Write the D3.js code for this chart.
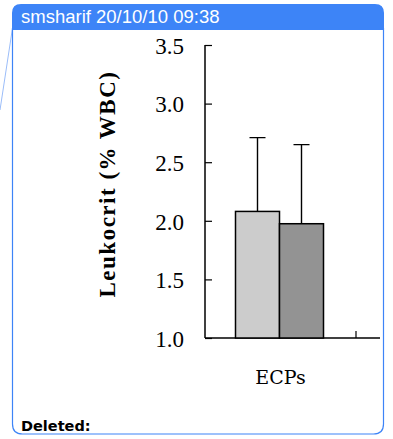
<!DOCTYPE html>
<html>
  <head>
    <meta charset="utf-8">
    <title>Leukocrit</title>
    <script src="https://d3js.org/d3.v7.min.js"></script>
    <style>
      body { margin: 0; background: #fff; }
      svg { display: block; }
    </style>
  </head>
  <body>
    <svg id="chart" width="393" height="439"></svg>
    <script>
      // data
      categories = ["ECPs"];
      groups = ["A", "B"];
      means = [2.08, 1.975];
      errors = [0.63, 0.675];
      fills = ["#cccccc", "#939393"];
      yTicks = [1.0, 1.5, 2.0, 2.5, 3.0, 3.5];

      chart = d3.select("#chart");

      // comment balloon frame
      blue = "#3d84f7";
      chart.append("line")
        .attr("x1", 12.5).attr("y1", 28)
        .attr("x2", 0).attr("y2", 110)
        .attr("stroke", "#9bbdf9").attr("stroke-width", 1);
      chart.append("path")
        .attr("d", "M12.5,28 V424 Q12.5,434 22.5,434 H373.5 Q383.5,434 383.5,424 V28")
        .attr("fill", "none").attr("stroke", blue).attr("stroke-width", 1.2);
      chart.append("path")
        .attr("d", "M12,30 V13 Q12,4 21,4 H375 Q384,4 384,13 V30 Z")
        .attr("fill", blue);
      chart.append("text")
        .attr("x", 21).attr("y", 23)
        .attr("font-family", "Liberation Sans, Arial")
        .attr("font-size", 18.5)
        .attr("fill", "#fff")
        .text("smsharif 20/10/10 09:38");
      chart.append("text")
        .attr("x", 21).attr("y", 431)
        .attr("font-family", "DejaVu Sans, Verdana")
        .attr("font-weight", "bold")
        .attr("font-size", 14.5)
        .attr("fill", "#000")
        .text("Deleted:");

      // scales
      margin = { left: 205, right: 380, top: 45, bottom: 338 };
      y = d3.scaleLinear().domain([1, 3.5]).range([margin.bottom, margin.top]);
      x = d3.scaleBand().domain(categories).range([margin.left, 356]);
      xg = d3.scaleBand().domain(groups).range([0, 88]);

      serif = "Liberation Serif, Times New Roman, serif";

      // y axis
      yAxis = d3.axisRight(y)
        .tickValues(yTicks)
        .tickSize(7)
        .tickSizeOuter(0)
        .tickFormat(d3.format(".1f"));
      yAxisGroup = chart.append("g")
        .attr("transform", "translate(" + margin.left + ",0)")
        .call(yAxis);
      yAxisGroup.select(".domain").attr("stroke", "#000").attr("stroke-width", 1.5)
        .attr("d", "M0," + margin.top + "V" + margin.bottom);
      yAxisGroup.selectAll(".tick line").attr("stroke", "#000").attr("stroke-width", 1.2);
      yAxisGroup.selectAll(".tick text")
        .attr("x", -21).attr("dy", "0.36em")
        .attr("text-anchor", "end")
        .attr("font-family", serif)
        .attr("font-size", 23)
        .attr("fill", "#000");
      chart.append("text")
        .attr("transform", "translate(115,184) rotate(-90)")
        .attr("text-anchor", "middle")
        .attr("font-family", serif)
        .attr("font-weight", "bold")
        .attr("font-size", 23)
        .attr("letter-spacing", 1.5)
        .attr("fill", "#000")
        .text("Leukocrit (% WBC)");

      // x axis
      chart.append("line")
        .attr("x1", margin.left).attr("x2", margin.right)
        .attr("y1", margin.bottom).attr("y2", margin.bottom)
        .attr("stroke", "#000").attr("stroke-width", 1.5);
      chart.append("line")
        .attr("x1", x.range()[1]).attr("x2", x.range()[1])
        .attr("y1", margin.bottom).attr("y2", margin.bottom - 7)
        .attr("stroke", "#000").attr("stroke-width", 1.2);
      chart.selectAll(".xlabel")
        .data(categories)
        .enter().append("text")
          .attr("class", "xlabel")
          .attr("x", function(d) { return x(d) + x.bandwidth() / 2; })
          .attr("y", 384)
          .attr("text-anchor", "middle")
          .attr("font-family", "DejaVu Serif, serif")
          .attr("font-size", 19)
          .attr("fill", "#000")
          .text(function(d) { return d; });

      // bars
      barGroup = chart.append("g")
        .attr("transform", "translate(" + (x(categories[0]) + 30.5) + ",0)");
      barData = groups.map(function(g, i) {
        return { group: g, mean: means[i], err: errors[i], fill: fills[i] };
      });
      barGroup.selectAll(".err")
        .data(barData)
        .enter().append("path")
          .attr("class", "err")
          .attr("d", function(d) {
            cx = xg(d.group) + xg.bandwidth() / 2;
            return "M" + cx + "," + y(d.mean) + "V" + y(d.mean + d.err) +
              "M" + (cx - 8) + "," + y(d.mean + d.err) + "H" + (cx + 8);
          })
          .attr("fill", "none").attr("stroke", "#000").attr("stroke-width", 1.4);
      barGroup.selectAll(".bar")
        .data(barData)
        .enter().append("rect")
          .attr("class", "bar")
          .attr("x", function(d) { return xg(d.group); })
          .attr("width", xg.bandwidth())
          .attr("y", function(d) { return y(d.mean); })
          .attr("height", function(d) { return y(1) - y(d.mean); })
          .attr("fill", function(d) { return d.fill; })
          .attr("stroke", "#000").attr("stroke-width", 1.5);
    </script>
  </body>
</html>
